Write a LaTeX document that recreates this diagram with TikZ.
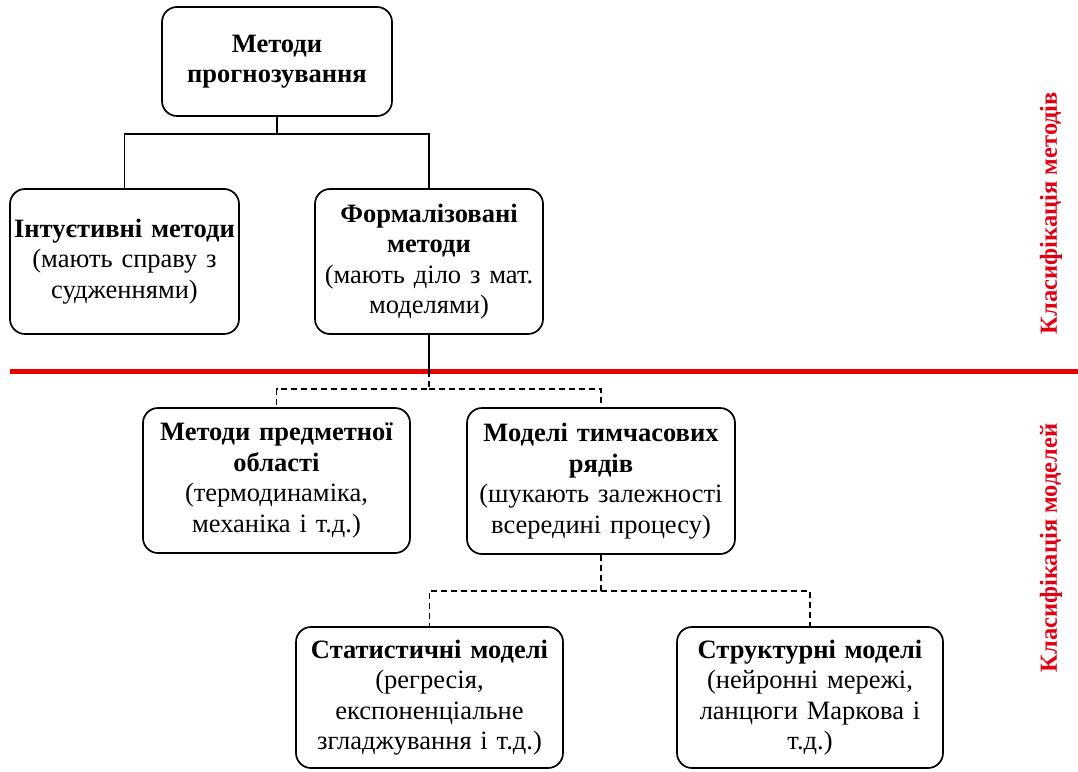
\documentclass[tikz,border=0pt]{standalone}
\usepackage{fontspec}
\setmainfont{Liberation Serif}
\definecolor{redline}{RGB}{230,0,0}
\definecolor{redtext}{RGB}{225,0,20}
\begin{document}
\begin{tikzpicture}[x=1pt,y=-1pt,
  box/.style={draw=black, line width=1.7pt, rounded corners=15pt, fill=white,
    inner sep=0pt, align=center, font=\fontsize{26.5}{30.5}\selectfont},
  conn/.style={draw=black, line width=1.4pt},
  dconn/.style={draw=black, line width=1.4pt, dash pattern=on 6pt off 4pt},
  redlabel/.style={text=redtext, font=\fontsize{24.5}{28}\selectfont\bfseries, rotate=90, inner sep=0pt}]
\useasboundingbox (0,0) rectangle (1078,771);
% red separator
\coordinate (rl) at (10,371);
\coordinate (rr) at (1078,371);
\draw[redline, line width=5pt] (rl) -- (rr);

\node[box, minimum width=230pt, minimum height=109pt, text width=226pt] (top) at (277,61.5)
  {\textbf{Методи}\\\textbf{прогнозування}};
\node[box, minimum width=229pt, minimum height=145pt, text width=227pt] (intu) at (124.5,261.5)
  {\textbf{Інтуєтивні методи}\\(мають справу з\\судженнями)};
\node[box, minimum width=228pt, minimum height=145pt, text width=226pt] (form) at (429,261.5)
  {\textbf{Формалізовані}\\\textbf{методи}\\(мають діло з мат.\\моделями)};
\node[box, minimum width=267pt, minimum height=145pt, text width=263pt] (pred) at (276.5,480.5)
  {\textbf{Методи предметної}\\\textbf{області}\\(термодинаміка,\\механіка і т.д.)};
\node[box, minimum width=268pt, minimum height=146pt, text width=264pt] (tser) at (601,481)
  {\textbf{Моделі тимчасових}\\\textbf{рядів}\\(шукають залежності\\всередині процесу)};
\node[box, minimum width=267pt, minimum height=141pt, text width=263pt] (stat) at (429.5,697.5)
  {\textbf{Статистичні моделі}\\(регресія,\\експоненціальне\\згладжування і т.д.)};
\node[box, minimum width=266pt, minimum height=141pt, text width=262pt] (struct) at (810,697.5)
  {\textbf{Структурні моделі}\\(нейронні мережі,\\ланцюги Маркова і\\т.д.)};

% connectors
\coordinate (j0) at (277,134);
\draw[conn] (top.south) -- (j0) -| (intu.north);
\draw[conn] (j0) -| (form.north);
\coordinate (split) at (429,371);
\coordinate (j1) at (429,389);
\draw[conn] (form.south) -- (split);
\draw[dconn] (split) -- (j1) -| (pred.north);
\draw[dconn] (j1) -| (tser.north);
\coordinate (j2) at (601,591);
\draw[dconn] (tser.south) -- (j2) -| (stat.north);
\draw[dconn] (j2) -| (struct.north);

% side labels
\node[redlabel] (lab1) at (1051,213) {Класифікація методів};
\node[redlabel] (lab2) at (1051,548) {Класифікація моделей};
\end{tikzpicture}
\end{document}
